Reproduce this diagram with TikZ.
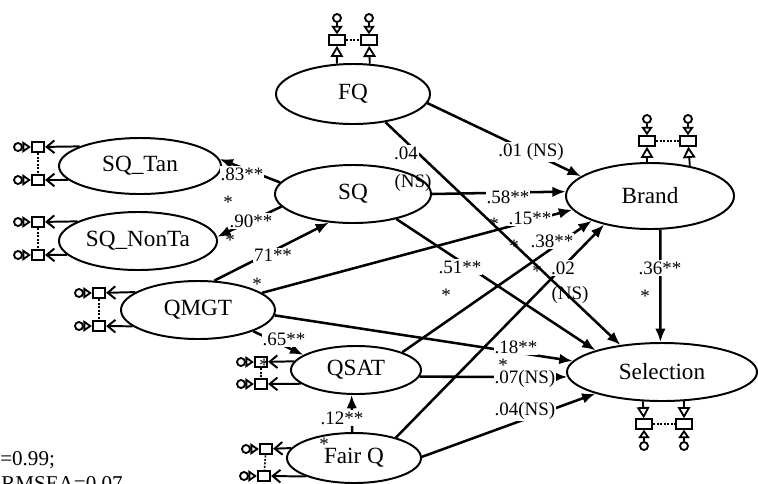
\documentclass[tikz,border=0pt]{standalone}
\usepackage{fontspec}
\setmainfont{Liberation Serif}
\usetikzlibrary{arrows.meta,shapes.geometric,calc}
% a significance star whose box hugs the glyph
\newcommand\sigstar{\raisebox{-0.52em}[0.16em][0.16em]{*}}
\tikzset{
  lat/.style={ellipse, draw, line width=1.4pt, inner sep=0pt, font=\fontsize{16.5}{18}\selectfont},
  effect/.style={line width=1.8pt, -{Latex[length=9.5pt,width=7.5pt]}},
  coef/.style={fill=white, inner sep=0.8pt, font=\fontsize{13.5}{15}\selectfont},
  sig/.style={inner sep=0pt, font=\fontsize{13.5}{15}\selectfont},
  obs/.style={rectangle, draw, line width=1.3pt, inner sep=0pt, minimum width=0.31cm, minimum height=0.27cm},
  obsw/.style={obs, minimum width=0.42cm, minimum height=0.24cm},
  errc/.style={circle, draw, line width=1.3pt, inner sep=0pt, minimum size=0.2cm},
  errarr/.style={line width=1.3pt, -{Triangle[open,length=6pt,width=8pt]}},
  loadL/.style={line width=1.4pt, -{Straight Barb[length=5.5pt,width=9pt]}},
  loadV/.style={line width=1.3pt, -{Triangle[open,length=8pt,width=9pt]}},
  corr/.style={line width=1.1pt, dash pattern=on 1.5pt off 1pt},
  fitinfo/.style={anchor=base west, inner sep=0pt, font=\fontsize{15}{17}\selectfont},
}
\begin{document}
\begin{tikzpicture}[x=0.025cm, y=-0.025cm]
\useasboundingbox (0,0) rectangle (758,483);

% latent constructs
\node[lat, minimum width=3.85cm, minimum height=1.5cm]  (FQ)    at (353,94)  {FQ};
\node[lat, minimum width=4.05cm, minimum height=1.4cm]  (SQtan) at (140,166) {SQ\_Tan};
\node[lat, minimum width=3.95cm, minimum height=1.45cm] (SQnon) at (138,241) {SQ\_NonTa};
\node[lat, minimum width=3.9cm,  minimum height=1.45cm] (SQ)    at (353,194) {SQ};
\node[lat, minimum width=3.85cm, minimum height=1.45cm] (QMGT)  at (198,310) {QMGT};
\node[lat, minimum width=3.25cm, minimum height=1.2cm]  (QSAT)  at (356,370) {QSAT};
\node[lat, minimum width=3.35cm, minimum height=1.25cm] (FairQ) at (354,458) {Fair Q};
\node[lat, minimum width=4.2cm,  minimum height=1.65cm] (Brand) at (650,196) {Brand};
\node[lat, minimum width=4.75cm, minimum height=1.45cm] (Sel)   at (662,372) {Selection};

% indicators on the left side of a construct
\foreach \nm/\lv/\px/\py/\an in {t1/SQtan/38/147/162.3, t2/SQtan/38/180/191.3,
    n1/SQnon/38/222/162.35, n2/SQnon/38/255/191.4,
    m1/QMGT/99/293/164.8, m2/QMGT/99/326/194,
    s1/QSAT/261/362/172.6, s2/QSAT/261/384/194.9,
    f1/FairQ/266/449/171.8, f2/FairQ/264/476/201.2}{
  \node[obs] (\nm) at (\px,\py) {};
  \node[errc] (e\nm) at ($(\nm)+(-20,0)$) {};
  \draw[errarr] (e\nm) -- (\nm);
  \draw[loadL] (\lv.\an) -- (\nm);
}
% indicators above a construct
\foreach \nm/\lv/\px/\py/\an in {q1/FQ/337/40/118.6, q2/FQ/369/40/61.4,
    b1/Brand/647/141/95.2, b2/Brand/688/141/37.76}{
  \node[obsw] (\nm) at (\px,\py) {};
  \node[errc] (e\nm) at ($(\nm)+(0,-22)$) {};
  \draw[errarr] (e\nm) -- (\nm);
  \draw[loadV] (\lv.\an) -- (\nm);
}
% indicators below a construct
\foreach \nm/\lv/\px/\py/\an in {c1/Sel/644/424/237.7, c2/Sel/684/424/307.95}{
  \node[obsw] (\nm) at (\px,\py) {};
  \node[errc] (e\nm) at ($(\nm)+(0,22)$) {};
  \draw[errarr] (e\nm) -- (\nm);
  \draw[loadV] (\lv.\an) -- (\nm);
}
% correlated measurement errors
\foreach \a/\b in {t1/t2, n1/n2, m1/m2, s1/s2, f1/f2, q1/q2, b1/b2, c1/c2}
  \draw[corr] (\a) -- (\b);

% structural paths
\draw[effect] (SQ.171)      -- (SQtan.5);
\draw[effect] (SQ.190)      -- (SQnon.3);
\draw[effect] (QMGT.61)     -- (SQ.230);
\draw[effect] (QMGT.15.7)   -- (Brand.190);
\draw[effect] (FQ.-7)       -- (Brand.164.7);
\draw[effect] (FQ.-41)      -- (Sel.147.3);
\draw[effect] (SQ.0.73)     -- (Brand.177.9);
\draw[effect] (SQ.-30.8)    -- (Sel.162.3);
\draw[effect] (QSAT.21)     -- (Brand.203.4);
\draw[effect] (FairQ.26.6)  -- (Brand.212.5);
\draw[effect] (QMGT.-4.6)   -- (Sel.173.9);
\draw[effect] (QSAT.-6.42)  -- (Sel.183.06);
\draw[effect] (FairQ.1.7)   -- (Sel.198.2);
\draw[effect] (Brand.-73)   -- (Sel.93.9);
\draw[effect] (QMGT.-21.3)  -- (QSAT.164.8);
\draw[effect] (FairQ.94.6)  -- (QSAT.260.5);

% path coefficients
\node[coef] (k1)  at (242,174) {.83**};
\node[coef] (k2)  at (251,221) {.90**};
\node[coef] (k3)  at (273,255) {71**};
\node[coef] (k4)  at (508,197) {.58**};
\node[coef] (k5)  at (531,152) {.01 (NS)};
\node[coef] (k6)  at (406,153) {.04};
\node[coef] (k7)  at (530,218) {.15**};
\node[coef] (k8)  at (552,241) {.38**};
\node[coef] (k9)  at (460,267) {.51**};
\node[coef] (k10) at (563,268) {.02};
\node[coef] (k11) at (660,268) {.36**};
\node[coef] (k12) at (284,339) {.65**};
\node[coef] (k13) at (516,347) {.18**};
\node[coef] (k14) at (525,379) {.07(NS)};
\node[coef] (k15) at (342,418) {.12**};
\node[coef] (k16) at (525,411) {.04(NS)};
% second lines of the coefficients
\node[sig]  (k1s)  at (228,199) {\sigstar};
\node[sig]  (k2s)  at (230,237) {\sigstar};
\node[sig]  (k3s)  at (257,281) {\sigstar};
\node[sig]  (k4s)  at (494,221) {\sigstar};
\node[sig]  (k6s)  at (413,183) {(NS)};
\node[sig]  (k7s)  at (514,243) {\sigstar};
\node[sig]  (k8s)  at (537,268) {\sigstar};
\node[sig]  (k9s)  at (446,292) {\sigstar};
\node[sig]  (k10s) at (570,295) {(NS)};
\node[sig]  (k11s) at (645,293) {\sigstar};
\node[sig]  (k12s) at (264,362) {\sigstar};
\node[sig]  (k13s) at (503,362) {\sigstar};
\node[sig]  (k15s) at (324,441) {\sigstar};

% model fit
\node[fitinfo] (fit1) at (0,465) {=0.99;};
\node[fitinfo] (fit2) at (1,490) {RMSEA=0.07};
\end{tikzpicture}
\end{document}
